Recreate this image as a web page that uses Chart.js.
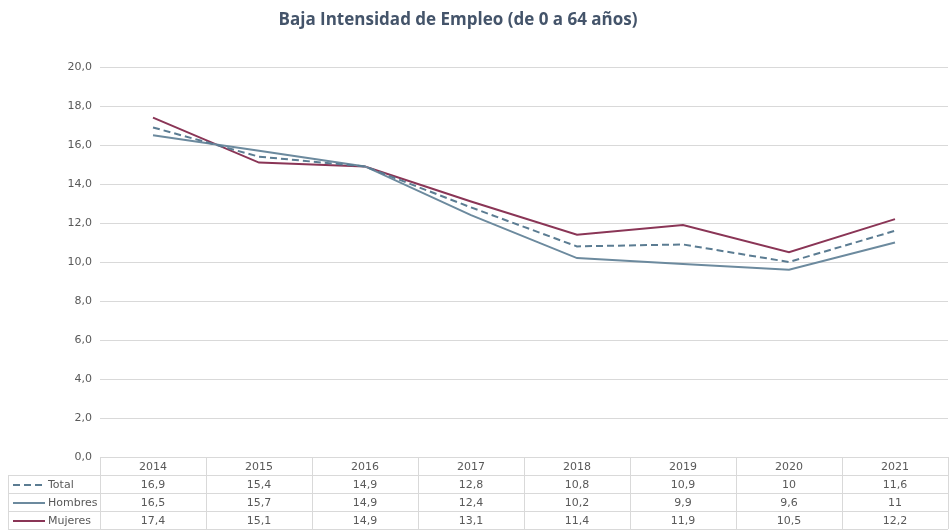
<!DOCTYPE html>
<html lang="es">
<head>
    <meta charset="UTF-8">
    <title>Baja Intensidad de Empleo</title>
    <style>
        body {
            margin: 0;
            background: #ffffff;
        }
        #chartContainer {
            position: relative;
            width: 952px;
            height: 530px;
        }
    </style>
</head>
<body>
    <div id="chartContainer">
        <canvas id="empleoChart" width="952" height="530"></canvas>
    </div>

    <script src="https://cdn.jsdelivr.net/npm/chart.js"></script>
    <script>
        // Data
        const years = ['2014', '2015', '2016', '2017', '2018', '2019', '2020', '2021'];
        const total = [16.9, 15.4, 14.9, 12.8, 10.8, 10.9, 10, 11.6];
        const hombres = [16.5, 15.7, 14.9, 12.4, 10.2, 9.9, 9.6, 11];
        const mujeres = [17.4, 15.1, 14.9, 13.1, 11.4, 11.9, 10.5, 12.2];
        const yTicks = [0, 2, 4, 6, 8, 10, 12, 14, 16, 18, 20];

        const chartTitle = 'Baja Intensidad de Empleo (de 0 a 64 años)';
        const textColor = '#595959';
        const gridColor = '#d9d9d9';
        const tickFont = '11px "DejaVu Sans", Verdana, sans-serif';

        function fmt(v) {
            return String(v).replace('.', ',');
        }

        // Draws title at the top
        const titlePlugin = {
            id: 'customTitle',
            afterDraw(chart) {
                const ctx = chart.ctx;
                ctx.save();
                ctx.fillStyle = '#44546a';
                ctx.font = 'bold 17px "Open Sans", Lato, sans-serif';
                ctx.textAlign = 'center';
                ctx.textBaseline = 'middle';
                ctx.fillText(chartTitle, 458, 20);
                ctx.restore();
            }
        };

        // Draws the data table under the plot, using the x scale for columns
        const tablePlugin = {
            id: 'dataTable',
            afterDraw(chart) {
                const ctx = chart.ctx;
                const xs = chart.scales.x;
                const area = chart.chartArea;
                const rowH = 18;
                const top = area.bottom;
                const labelLeft = 8;
                const step = xs.getPixelForValue(1) - xs.getPixelForValue(0);
                const colEdges = years.map((y, i) => xs.getPixelForValue(i) - step / 2);
                colEdges.push(xs.getPixelForValue(years.length - 1) + step / 2);
                const right = colEdges[colEdges.length - 1];

                ctx.save();
                ctx.strokeStyle = gridColor;
                ctx.lineWidth = 1;

                // horizontal lines
                ctx.beginPath();
                for (let r = 0; r <= 4; r++) {
                    const y = Math.round(top + r * rowH) + 0.5;
                    ctx.moveTo(r === 0 ? area.left : labelLeft, y);
                    ctx.lineTo(right, y);
                }
                // vertical lines
                colEdges.forEach(x => {
                    const px = Math.round(x) + 0.5;
                    ctx.moveTo(px, top);
                    ctx.lineTo(px, top + 4 * rowH);
                });
                ctx.moveTo(labelLeft + 0.5, top + rowH);
                ctx.lineTo(labelLeft + 0.5, top + 4 * rowH);
                ctx.stroke();

                ctx.font = tickFont;
                ctx.fillStyle = textColor;
                ctx.textBaseline = 'middle';
                ctx.textAlign = 'center';

                // header
                years.forEach((y, i) => {
                    ctx.fillText(y, xs.getPixelForValue(i), top + rowH / 2 + 1);
                });

                // series rows
                chart.data.datasets.forEach((ds, r) => {
                    const cy = top + (r + 1) * rowH + rowH / 2 + 1;
                    ctx.textAlign = 'center';
                    ds.data.forEach((v, i) => {
                        ctx.fillText(fmt(v), xs.getPixelForValue(i), cy);
                    });
                    // legend key
                    ctx.save();
                    ctx.strokeStyle = ds.borderColor;
                    ctx.lineWidth = 2;
                    ctx.setLineDash(ds.borderDash || []);
                    ctx.beginPath();
                    ctx.moveTo(13, cy);
                    ctx.lineTo(45, cy);
                    ctx.stroke();
                    ctx.restore();
                    ctx.textAlign = 'left';
                    ctx.fillText(ds.label, 48, cy);
                });
                ctx.restore();
            }
        };

        const ctx = document.getElementById('empleoChart').getContext('2d');
        const chart = new Chart(ctx, {
            type: 'line',
            data: {
                labels: years,
                datasets: [
                    {
                        label: 'Total',
                        data: total,
                        borderColor: '#5b7c92',
                        borderDash: [7, 4],
                        borderWidth: 2,
                        pointRadius: 0,
                        tension: 0,
                        fill: false
                    },
                    {
                        label: 'Hombres',
                        data: hombres,
                        borderColor: '#6c8a9e',
                        borderWidth: 2,
                        pointRadius: 0,
                        tension: 0,
                        fill: false
                    },
                    {
                        label: 'Mujeres',
                        data: mujeres,
                        borderColor: '#8a3556',
                        borderWidth: 2,
                        pointRadius: 0,
                        tension: 0,
                        fill: false
                    }
                ]
            },
            options: {
                responsive: false,
                animation: false,
                layout: {
                    padding: { top: 67, bottom: 73, right: 4, left: 0 }
                },
                plugins: {
                    legend: { display: false },
                    title: { display: false },
                    tooltip: { enabled: false }
                },
                scales: {
                    x: {
                        display: false,
                        offset: true
                    },
                    y: {
                        min: 0,
                        max: 20,
                        afterFit(scale) {
                            scale.width = 100;
                        },
                        afterBuildTicks(scale) {
                            scale.ticks = yTicks.map(v => ({ value: v }));
                        },
                        border: { display: false },
                        grid: {
                            color: gridColor,
                            drawTicks: false
                        },
                        ticks: {
                            color: textColor,
                            font: { family: '"DejaVu Sans", Verdana, sans-serif', size: 11 },
                            padding: 8,
                            callback: v => v.toFixed(1).replace('.', ',')
                        }
                    }
                }
            },
            plugins: [titlePlugin, tablePlugin]
        });
    </script>
</body>
</html>
